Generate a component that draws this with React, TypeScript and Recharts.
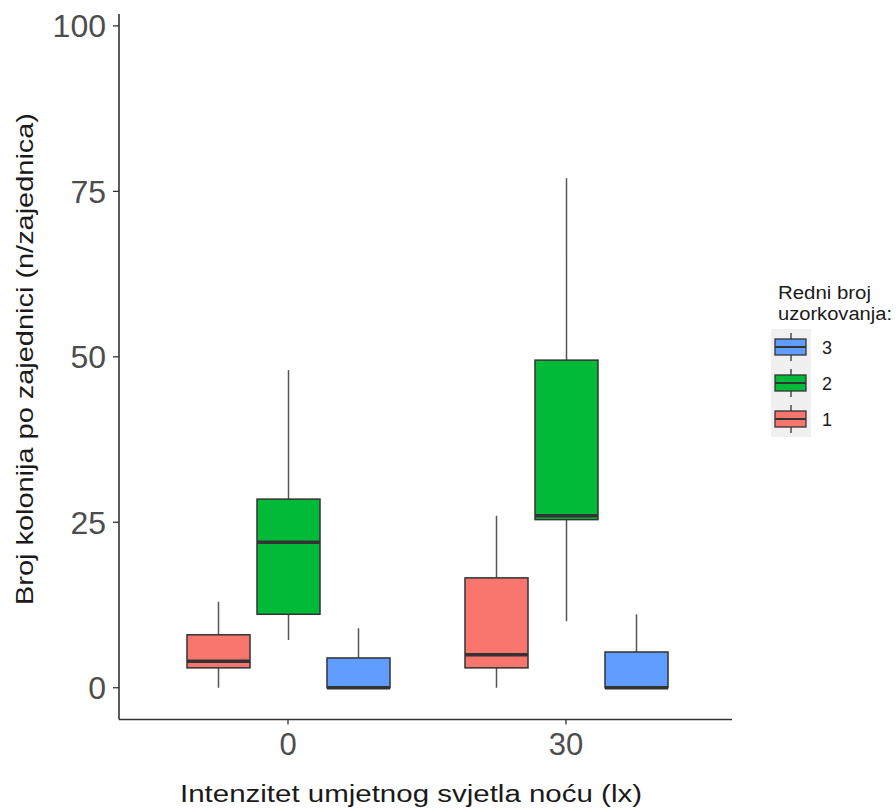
import React from 'react';
import { BarChart, Bar, XAxis, YAxis, Legend, Label } from 'recharts';

// Categories (light intensity, lx)
const categories = ['0', '30'];
// Sampling round labels and colours
const seriesNames = ['1', '2', '3'];
const seriesColors = ['#F8766D', '#00BA38', '#619CFF'];
// Box statistics per category: [min, q1, median, q3, max]
const sampling1 = [
  [0, 3, 4, 8, 13],
  [0, 3, 5, 16.6, 26],
];
const sampling2 = [
  [7.2, 11.1, 22, 28.5, 48],
  [10.1, 25.4, 26, 49.5, 77],
];
const sampling3 = [
  [0, 0, 0, 4.5, 9],
  [0, 0, 0, 5.4, 11.1],
];
const yTicks = [0, 25, 50, 75, 100];
const yDomain = [-4.8, 101.8];

const allStats = [sampling1, sampling2, sampling3];

const data = categories.map((cat, ci) => {
  const row: any = { cat };
  allStats.forEach((s, si) => {
    const st = s[ci];
    row[`r${si}`] = [st[0], st[4]];
    row[`s${si}`] = st;
  });
  return row;
});

const FONT = '"Liberation Sans", Arial, sans-serif';

const makeBoxShape = (si: number) => (props: any) => {
  const { x, y, width, height, payload } = props;
  const st = payload[`s${si}`];
  const [mn, q1, med, q3, mx] = st;
  const top = Math.min(y, y + height);
  const h = Math.abs(height);
  const pix = (v: number) => top + ((mx - v) / (mx - mn)) * h;
  const cx = x + width / 2;
  return (
    <g>
      <line x1={cx} x2={cx} y1={pix(mx)} y2={pix(q3)} stroke="#555555" strokeWidth={1.5} />
      <line x1={cx} x2={cx} y1={pix(q1)} y2={pix(mn)} stroke="#555555" strokeWidth={1.5} />
      <rect
        x={x}
        y={pix(q3)}
        width={width}
        height={pix(q1) - pix(q3)}
        fill={seriesColors[si]}
        stroke="#333333"
        strokeWidth={1.5}
      />
      <line x1={x} x2={x + width} y1={pix(med)} y2={pix(med)} stroke="#333333" strokeWidth={3.5} />
    </g>
  );
};

const LegendContent = () => {
  const order = [2, 1, 0];
  return (
    <svg width={136} height={172} style={{ display: 'block' }}>
      <text x={18} y={29} fontFamily={FONT} fontSize={18} fill="#1a1a1a" textLength={93} lengthAdjust="spacingAndGlyphs">
        Redni broj
      </text>
      <text x={18} y={50} fontFamily={FONT} fontSize={18} fill="#1a1a1a" textLength={114} lengthAdjust="spacingAndGlyphs">
        uzorkovanja:
      </text>
      <rect x={11} y={59} width={40} height={108} fill="#F0F0F0" />
      {order.map((si, k) => {
        const rowTop = 59 + k * 36;
        const cy = rowTop + 18;
        return (
          <g key={si}>
            <line x1={31} x2={31} y1={rowTop + 4} y2={rowTop + 32} stroke="#333333" strokeWidth={1.3} />
            <rect x={15} y={cy - 8} width={31} height={16} fill={seriesColors[si]} stroke="#333333" strokeWidth={1.3} />
            <line x1={15} x2={46} y1={cy} y2={cy} stroke="#333333" strokeWidth={2} />
            <text x={62} y={cy + 7} fontFamily={FONT} fontSize={18} fill="#1a1a1a">
              {seriesNames[si]}
            </text>
          </g>
        );
      })}
    </svg>
  );
};

const YTitle = (props: any) => {
  const vb = props.viewBox || { x: 0, y: 14, width: 119, height: 705.5 };
  const cx = vb.x + 33;
  const cy = 359;
  return (
    <text
      x={cx}
      y={cy}
      transform={`rotate(-90, ${cx}, ${cy})`}
      textAnchor="middle"
      fontFamily={FONT}
      fontSize={24}
      fill="#1a1a1a"
      textLength={492}
      lengthAdjust="spacingAndGlyphs"
    >
      Broj kolonija po zajednici (n/zajednica)
    </text>
  );
};

const XTitle = (props: any) => {
  const vb = props.viewBox || { x: 119, y: 719.5, width: 613, height: 60 };
  const cx = vb.x + vb.width / 2 - 14.5;
  const by = vb.y + 82;
  return (
    <text
      x={cx}
      y={by}
      textAnchor="middle"
      fontFamily={FONT}
      fontSize={23.5}
      fill="#1a1a1a"
      textLength={462}
      lengthAdjust="spacingAndGlyphs"
    >
      Intenzitet umjetnog svjetla noću (lx)
    </text>
  );
};

export default function App() {
  return (
    <div style={{ position: 'absolute', left: 0, top: 0, background: '#fff' }}>
      <BarChart
        width={896}
        height={812}
        data={data}
        margin={{ top: 14, right: 164, bottom: 32.5, left: 0 }}
        barCategoryGap={38}
        barGap={7}
        style={{ fontFamily: FONT }}
      >
        <XAxis
          dataKey="cat"
          type="category"
          padding={{ left: 30, right: 27 }}
          height={60}
          tickSize={5}
          tickMargin={8}
          axisLine={{ stroke: '#333333', strokeWidth: 1.6 }}
          tickLine={{ stroke: '#333333', strokeWidth: 1.3 }}
          tick={{ fill: '#4d4d4d', fontSize: 31, fontFamily: FONT }}
        >
          <Label content={<XTitle />} />
        </XAxis>
        <YAxis
          type="number"
          domain={yDomain}
          ticks={yTicks}
          allowDataOverflow
          width={119}
          tickSize={6}
          tickMargin={7}
          axisLine={{ stroke: '#333333', strokeWidth: 1.6 }}
          tickLine={{ stroke: '#333333', strokeWidth: 1.3 }}
          tick={{ fill: '#4d4d4d', fontSize: 32, fontFamily: FONT }}
        >
          <Label content={<YTitle />} />
        </YAxis>
        <Legend
          layout="vertical"
          align="center"
          verticalAlign="middle"
          content={<LegendContent />}
          wrapperStyle={{ left: 760, top: 270, width: 136, height: 172 }}
        />
        {seriesNames.map((name, si) => (
          <Bar
            key={name}
            dataKey={`r${si}`}
            name={name}
            fill={seriesColors[si]}
            isAnimationActive={false}
            shape={makeBoxShape(si)}
          />
        ))}
      </BarChart>
    </div>
  );
}
